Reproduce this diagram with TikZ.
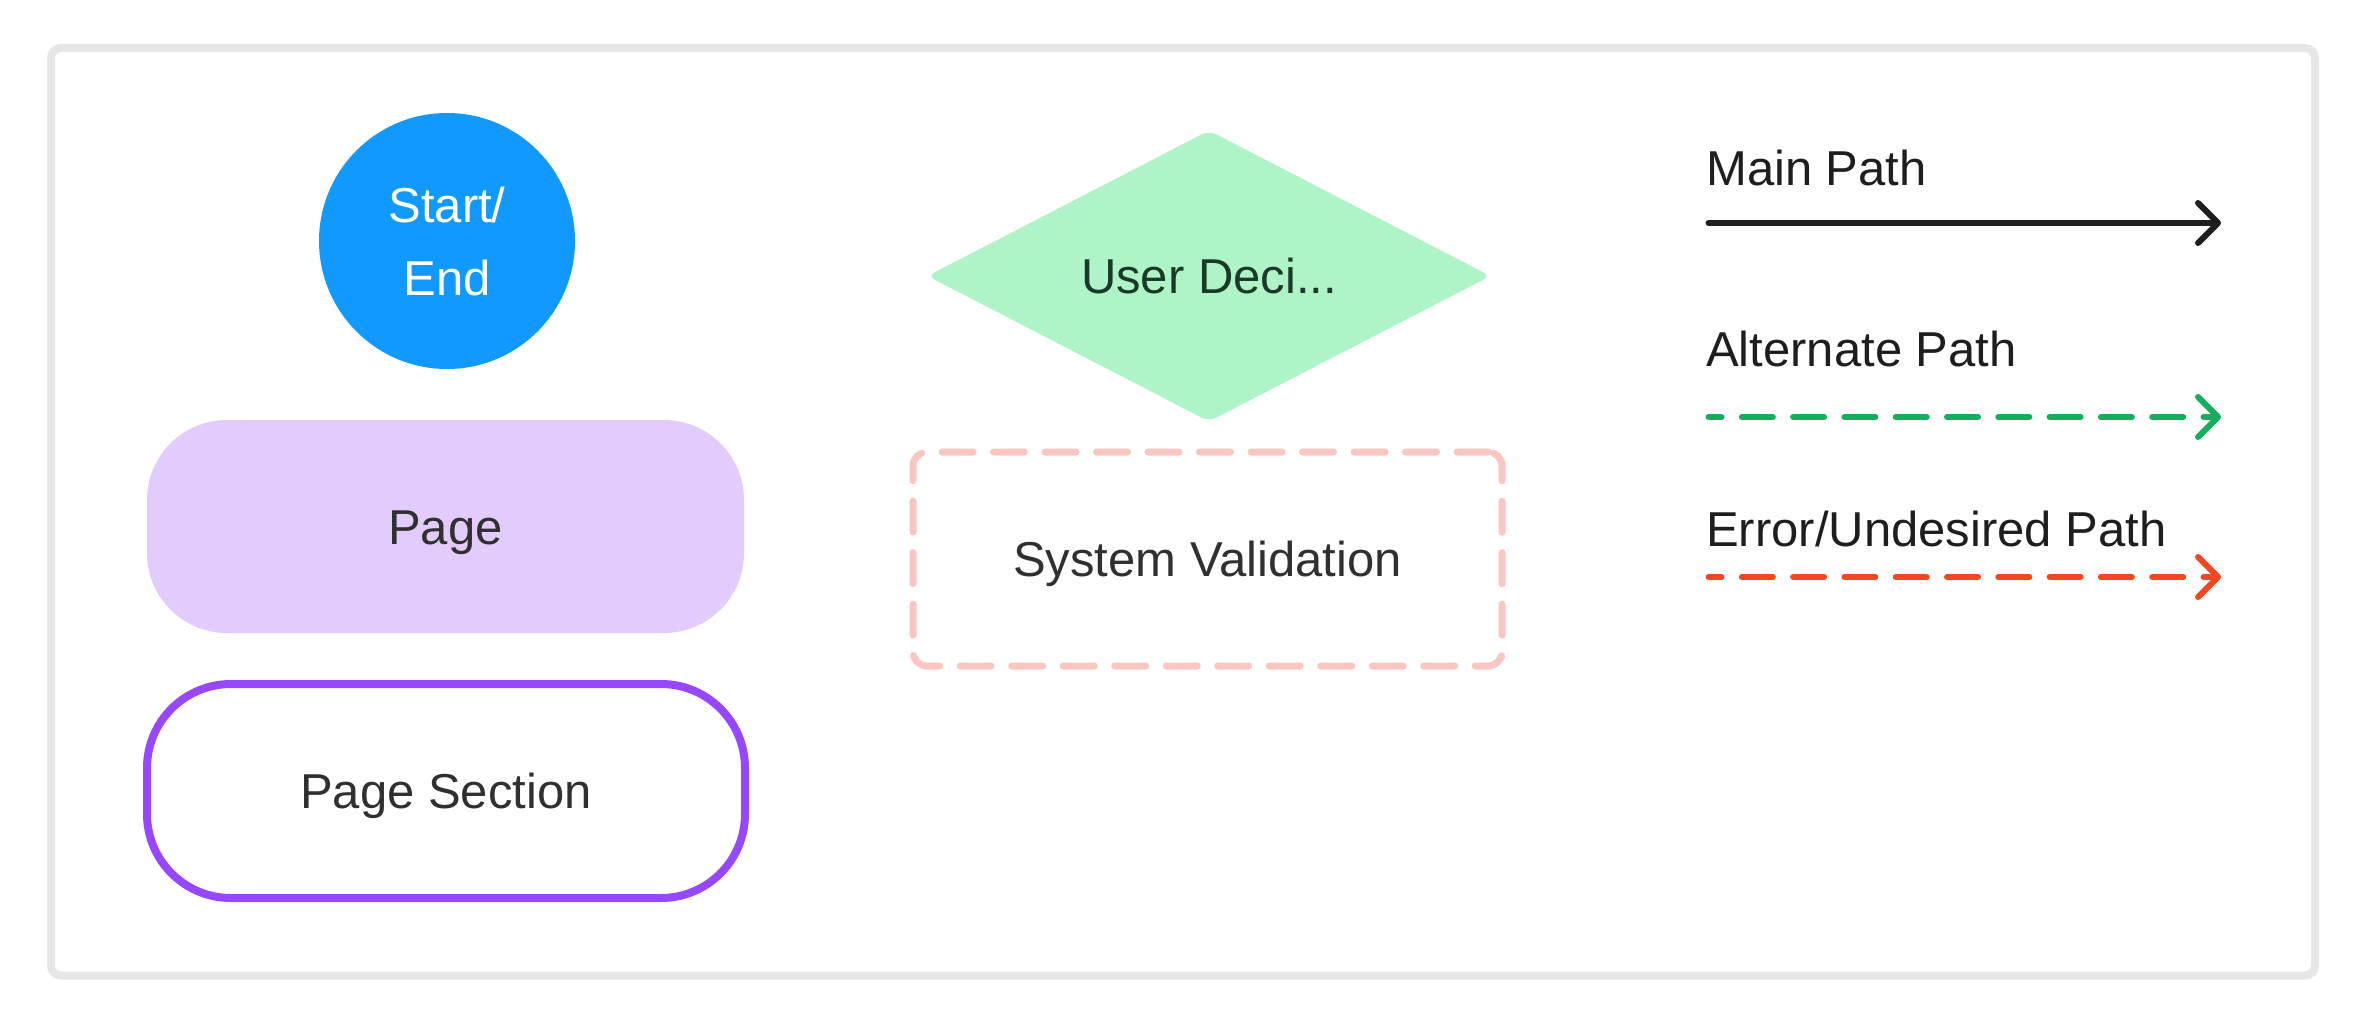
\documentclass[tikz,border=0pt]{standalone}
\usepackage{fontspec}
\setmainfont{Liberation Sans}
\usetikzlibrary{shapes.geometric,arrows.meta}
\definecolor{framegray}{HTML}{E6E6E6}
\definecolor{startblue}{HTML}{1199FF}
\definecolor{pagefill}{HTML}{E2CBFD}
\definecolor{sectpurple}{HTML}{9747FF}
\definecolor{decfill}{HTML}{AFF4C6}
\definecolor{dectext}{HTML}{1A3A27}
\definecolor{valpink}{HTML}{FCC6C0}
\definecolor{shapetext}{HTML}{303030}
\definecolor{mainblack}{HTML}{1E1E1E}
\definecolor{altgreen}{HTML}{14AE5C}
\definecolor{errred}{HTML}{F24822}
\begin{document}
\begin{tikzpicture}[x=1pt,y=-1pt,
  lbl/.style={font=\fontsize{49}{58}\selectfont},
  oneline/.style={lbl, text height=35pt, text depth=0pt, inner sep=0pt},
  legendlbl/.style={lbl, text=mainblack, anchor=base west, inner sep=0pt},
  legendline/.style={line width=6pt, line cap=round,
    -{Straight Barb[length=20pt, width=40pt, round]}},
  dashedline/.style={legendline, dash pattern=on 31pt off 20.3pt, dash phase=18pt}]
\useasboundingbox (0,0) rectangle (2363,1025);
\fill[white] (0,0) rectangle (2363,1025);
\draw[framegray, line width=8pt, rounded corners=10pt] (51,48) rectangle (2315,975.5);

% left column
\node[circle, fill=startblue, minimum size=256pt, inner sep=0pt, text=white,
  align=center, font=\fontsize{49}{73}\selectfont] (start) at (447,241) {Start/\\End};
\node[fill=pagefill, rounded corners=80pt, minimum width=597pt, minimum height=213pt,
  oneline, text=shapetext] (page) at (445.5,526.5) {Page};
\node[draw=sectpurple, fill=white, line width=8pt, rounded corners=84pt,
  minimum width=598pt, minimum height=214pt, oneline, text=shapetext] (section) at (446,791) {Page Section};

% middle column
\node[diamond, aspect=2, fill=decfill, rounded corners=8pt, minimum width=563pt,
  minimum height=291pt, oneline, text=dectext] (decision) at (1209,276) {User Deci...};
\node[draw=valpink, line width=7pt, line cap=round, dash pattern=on 31pt off 20.5pt,
  rounded corners=14pt, minimum width=589pt, minimum height=214pt, oneline,
  text=shapetext] (valid) at (1207.5,559) {System Validation};

% legend
\node[legendlbl] (mainlbl) at (1706,185) {Main Path};
\node[legendlbl] (altlbl) at (1706,366) {Alternate Path};
\node[legendlbl] (errlbl) at (1706,546) {Error/Undesired Path};
\coordinate (mainA) at (1708.5,223);
\coordinate (mainB) at (2221,223);
\coordinate (altA) at (1708.5,417);
\coordinate (altB) at (2221,417);
\coordinate (errA) at (1708.5,577);
\coordinate (errB) at (2221,577);
\draw[legendline, mainblack] (mainA) -- (mainB);
\draw[dashedline, altgreen] (altA) -- (altB);
\draw[dashedline, errred] (errA) -- (errB);
\end{tikzpicture}
\end{document}
